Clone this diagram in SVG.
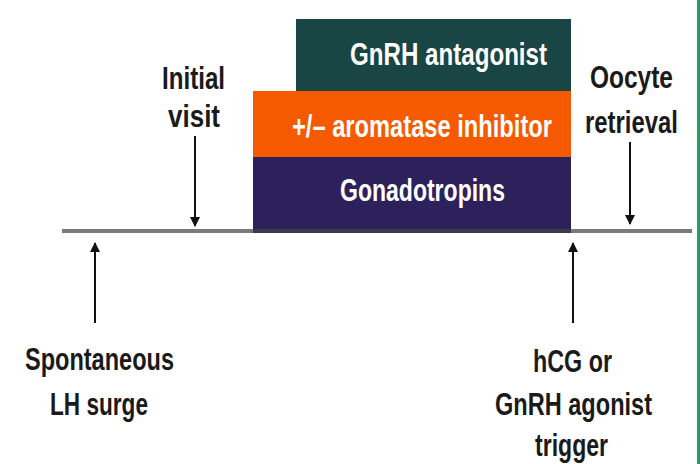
<svg xmlns="http://www.w3.org/2000/svg" width="700" height="464" viewBox="0 0 700 464">
<style>
text{font-family:"Liberation Sans Narrow","Liberation Sans",Arial,sans-serif;font-weight:bold;font-size:32px}
.lbl{fill:#1a1a1a}
.box{fill:#ffffff}
.arr{stroke:#111;stroke-width:2;fill:none;marker-end:url(#ah)}
</style>
<defs>
<marker id="ah" viewBox="0 0 10 10" refX="9" refY="5" markerWidth="5" markerHeight="5" orient="auto" markerUnits="strokeWidth">
<path d="M0,0 L10,5 L0,10 z" fill="#111"/>
</marker>
</defs>
<rect x="0" y="0" width="700" height="464" fill="#ffffff"/>
<rect x="697" y="0" width="3" height="464" fill="#2a9a62"/>
<g id="gnrh-antagonist">
<rect x="296" y="19" width="275" height="72" fill="#1a4545"/>
<text class="box" transform="translate(350,65) scale(0.78,1)" textLength="252.6" lengthAdjust="spacingAndGlyphs">GnRH antagonist</text>
</g>
<g id="aromatase-inhibitor">
<rect x="253" y="91" width="318" height="66" fill="#f55a00"/>
<text class="box" transform="translate(292,137) scale(0.78,1)" textLength="333.3" lengthAdjust="spacingAndGlyphs">+/– aromatase inhibitor</text>
</g>
<g id="gonadotropins">
<rect x="253" y="157" width="318" height="75" fill="#2d215c"/>
<text class="box" transform="translate(340,201) scale(0.78,1)" textLength="211.5" lengthAdjust="spacingAndGlyphs">Gonadotropins</text>
</g>
<g id="timeline">
<rect x="62" y="229" width="630" height="4" fill="#7a7a7a"/>
<rect x="253" y="229" width="318" height="4" fill="#3e3a4e"/>
</g>
<g id="connectors">
<line class="arr" x1="195" y1="136" x2="195" y2="226"/>
<line class="arr" x1="630" y1="142" x2="630" y2="224"/>
<line class="arr" x1="95" y1="323" x2="95" y2="243"/>
<line class="arr" x1="573" y1="323" x2="573" y2="243"/>
</g>
<g id="initial-visit">
<text class="lbl" transform="translate(162,89) scale(0.78,1)" textLength="80.8" lengthAdjust="spacingAndGlyphs">Initial</text>
<text class="lbl" transform="translate(168,127) scale(0.78,1)" textLength="66.7" lengthAdjust="spacingAndGlyphs">visit</text>
</g>
<g id="oocyte-retrieval">
<text class="lbl" transform="translate(590,88) scale(0.78,1)" textLength="106.4" lengthAdjust="spacingAndGlyphs">Oocyte</text>
<text class="lbl" transform="translate(585,133) scale(0.78,1)" textLength="119.2" lengthAdjust="spacingAndGlyphs">retrieval</text>
</g>
<g id="lh-surge">
<text class="lbl" transform="translate(25,370) scale(0.78,1)" textLength="191" lengthAdjust="spacingAndGlyphs">Spontaneous</text>
<text class="lbl" transform="translate(50,415) scale(0.78,1)" textLength="125.6" lengthAdjust="spacingAndGlyphs">LH surge</text>
</g>
<g id="trigger">
<text class="lbl" transform="translate(533,372) scale(0.78,1)" textLength="101.3" lengthAdjust="spacingAndGlyphs">hCG or</text>
<text class="lbl" transform="translate(495,415) scale(0.78,1)" textLength="201.3" lengthAdjust="spacingAndGlyphs">GnRH agonist</text>
<text class="lbl" transform="translate(535,456) scale(0.78,1)" textLength="93.6" lengthAdjust="spacingAndGlyphs">trigger</text>
</g>
</svg>
